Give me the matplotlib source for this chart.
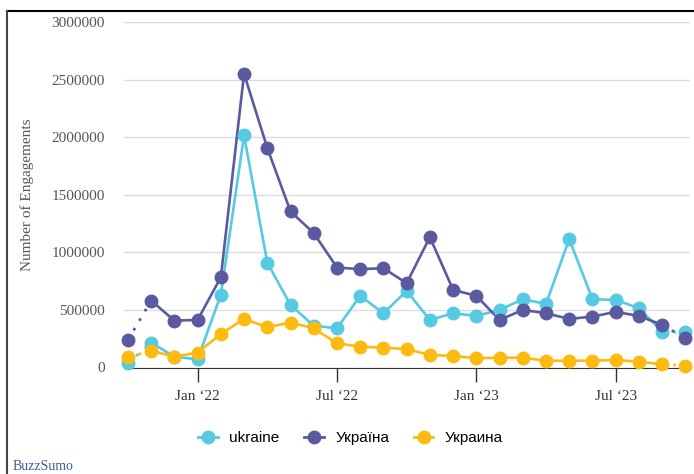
import matplotlib.pyplot as plt
from matplotlib.lines import Line2D

# monthly points, Oct 2021 .. Oct 2023
months = list(range(25))
tick_pos = [3, 9, 15, 21]
tick_labels = ["Jan \u201822", "Jul \u201822", "Jan \u201823", "Jul \u201823"]

ukraine = [37000, 216000, 94000, 71000, 632000, 2015000, 910000, 543000, 362000, 341000,
           622000, 471000, 665000, 413000, 471000, 448000, 500000, 593000, 552000, 1115000,
           593000, 587000, 515000, 311000, 305000]
ukraina_ua = [239000, 581000, 407000, 413000, 784000, 2550000, 1906000, 1355000, 1167000, 868000,
              854000, 862000, 732000, 1132000, 674000, 622000, 413000, 500000, 471000, 422000,
              442000, 483000, 448000, 370000, 254000]
ukraina_ru = [89000, 146000, 94000, 129000, 291000, 422000, 350000, 390000, 341000, 210000,
              181000, 172000, 161000, 109000, 100000, 80000, 85000, 85000, 59000, 59000,
              59000, 65000, 50000, 28000, 16000]

names = ["ukraine", "\u0423\u043a\u0440\u0430\u0457\u043d\u0430", "\u0423\u043a\u0440\u0430\u0438\u043d\u0430"]
colors = ["#56C9E3", "#5A5AA0", "#FDBB11"]
series = [ukraine, ukraina_ua, ukraina_ru]

fig = plt.figure(figsize=(6.94, 4.74), dpi=100)
ax = fig.add_axes([124 / 694, 1 - 367.5 / 474, 566 / 694, 345.5 / 474])

for vals, c in zip(series, colors):
    # solid for complete months, dotted for the first and last partial ones
    ax.plot(months[1:-1], vals[1:-1], color=c, lw=1.9, zorder=3, clip_on=False)
    ax.plot(months[:2], vals[:2], color=c, lw=2, ls=(0, (1, 3)), zorder=3, clip_on=False)
    ax.plot(months[-2:], vals[-2:], color=c, lw=2, ls=(0, (1, 3)), zorder=3, clip_on=False)
    ax.plot(months, vals, ls="none", marker="o", ms=9, color=c, zorder=4, clip_on=False)

ax.set_xlim(-0.17, 24.2)
ax.set_ylim(0, 3000000)
ax.set_yticks(range(0, 3000001, 500000))
ax.set_yticklabels([str(v) for v in range(0, 3000001, 500000)])
ax.set_xticks(tick_pos)
ax.set_xticklabels(tick_labels)

ax.grid(axis="y", color="#DDDDDD", lw=1)
ax.set_axisbelow(True)
for s in ["top", "right", "left"]:
    ax.spines[s].set_visible(False)
ax.spines["bottom"].set_color("#333333")
ax.tick_params(axis="y", length=0, pad=14, labelsize=11, labelcolor="#555555")
ax.tick_params(axis="x", length=10, width=1, color="#333333", pad=6, labelsize=11, labelcolor="#333333")
for lab in ax.get_xticklabels() + ax.get_yticklabels():
    lab.set_fontfamily("Liberation Serif")

fig.text(27 / 694, 1 - 195 / 474, "Number of Engagements", rotation=90, ha="center", va="center",
         fontsize=11, family="Liberation Serif", color="#555555")

handles = [Line2D([0], [0], color=c, lw=2, marker="o", ms=9) for c in colors]
fig.legend(handles, names, loc="center", bbox_to_anchor=(0.505, 1 - 438 / 474), ncol=3,
           frameon=False, handlelength=1.3, columnspacing=1.6, handletextpad=0.75,
           prop={"family": "Liberation Sans", "size": 11})

fig.text(13 / 694, 1 - 467 / 474, "BuzzSumo", ha="left", va="center", fontsize=10,
         family="Liberation Serif", color="#3F5E96")

# outer frame, top and left edges visible
fig.add_artist(Line2D([7 / 694, 1], [1 - 11 / 474, 1 - 11 / 474], color="black", lw=1.5))
fig.add_artist(Line2D([7 / 694, 7 / 694], [0, 1 - 11 / 474], color="#444444", lw=1.5))

fig.savefig("out.png", dpi=100)
